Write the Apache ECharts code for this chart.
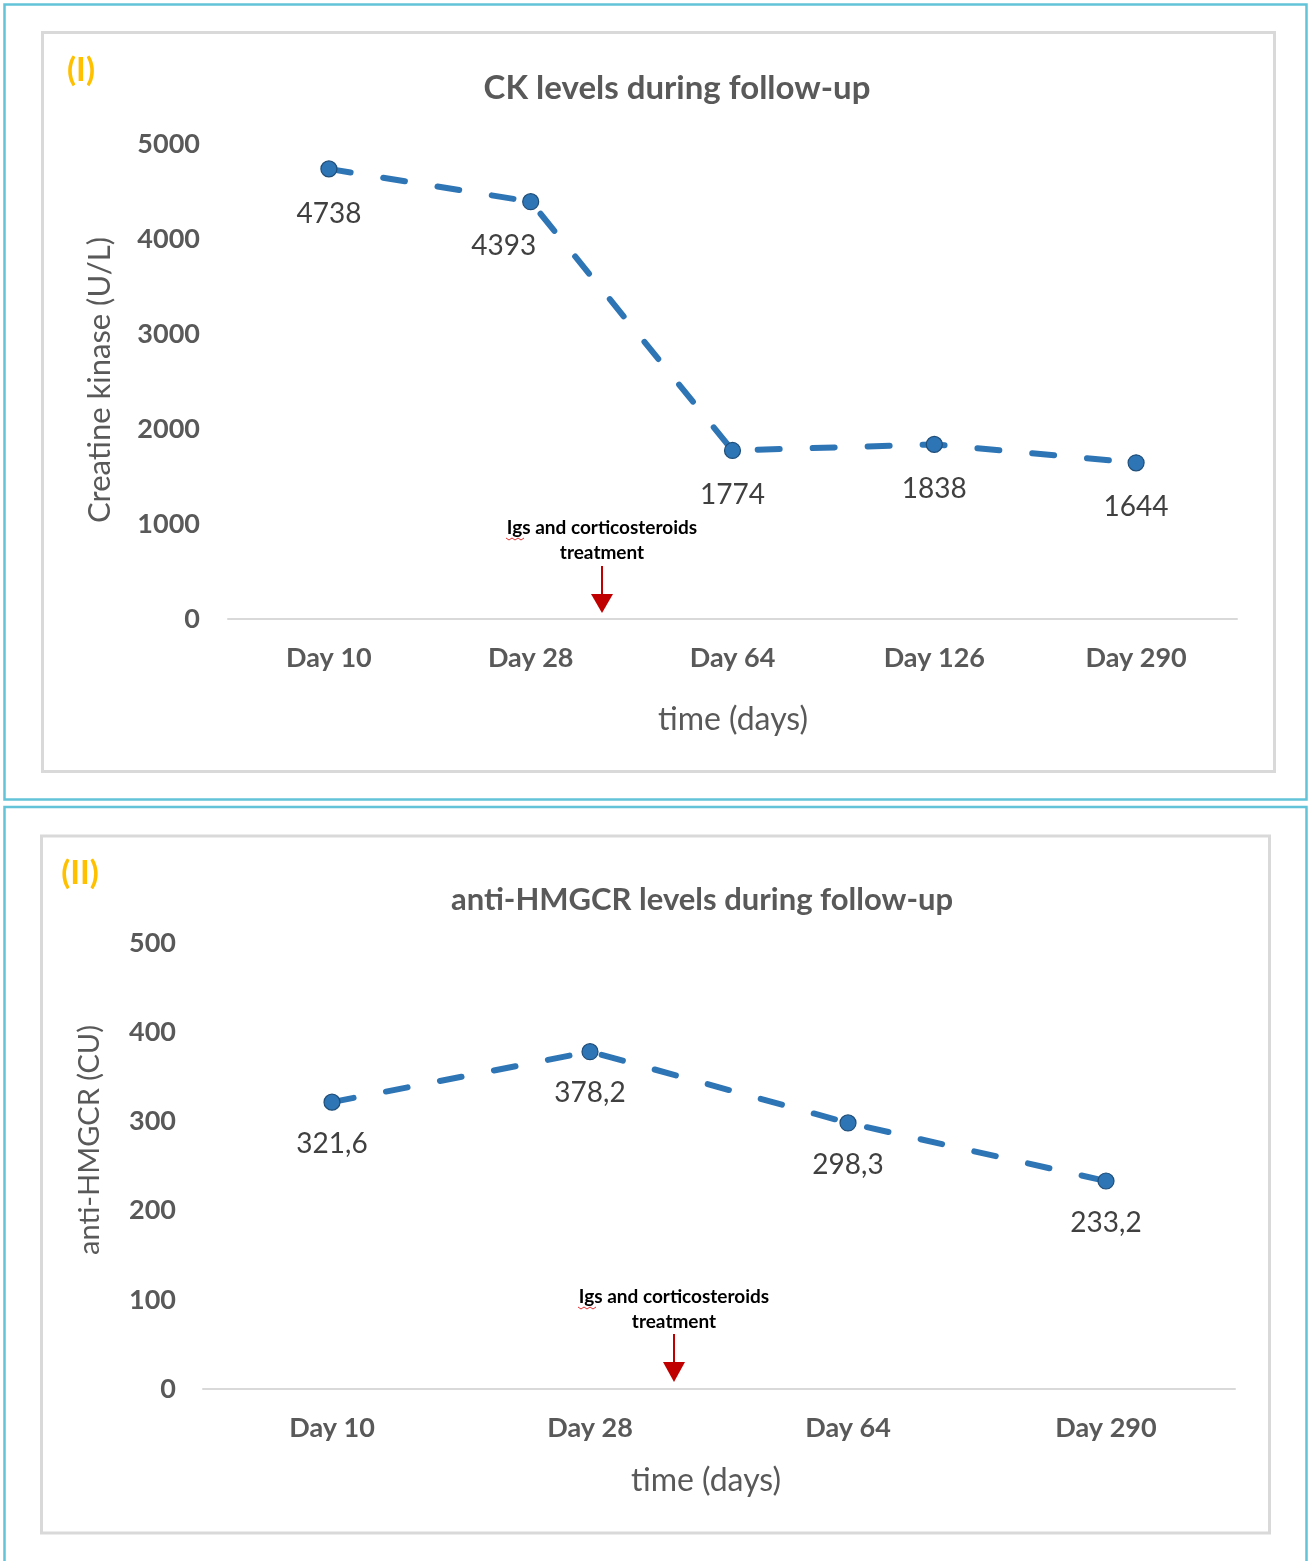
<!DOCTYPE html>
<html>
<head>
<meta charset="utf-8">
<script src="https://cdn.jsdelivr.net/npm/echarts@6/dist/echarts.min.js"></script>
<style>
  html, body { margin: 0; padding: 0; background: #fff; }
  #chart { width: 1312px; height: 1561px; }
</style>
</head>
<body>
<div id="chart"></div>
<script>
// data
const ckDays = ['Day 10', 'Day 28', 'Day 64', 'Day 126', 'Day 290'];
const ckValues = [4738, 4393, 1774, 1838, 1644];
const ckAxis = { min: 0, max: 5000, interval: 1000 };

const hmgDays = ['Day 10', 'Day 28', 'Day 64', 'Day 290'];
const hmgValues = [321.6, 378.2, 298.3, 233.2];
const hmgAxis = { min: 0, max: 500, interval: 100 };

const FONT = 'Lato';
const GREY = '#595959';
const BLUE = '#2e75b6';
const RED = '#c00000';

let myChart = echarts.init(document.getElementById('chart'));

function xAxisOf(idx, cats) {
  return {
    gridIndex: idx,
    type: 'category',
    data: cats,
    boundaryGap: true,
    axisLine: { lineStyle: { color: '#d9d9d9', width: 2 } },
    axisTick: { show: false },
    axisLabel: { color: GREY, fontFamily: FONT, fontWeight: 'bold', fontSize: 27, margin: 26 }
  };
}
function yAxisOf(idx, ax, margin) {
  return {
    gridIndex: idx,
    type: 'value',
    min: ax.min, max: ax.max, interval: ax.interval,
    axisLine: { show: false },
    axisTick: { show: false },
    splitLine: { show: false },
    axisLabel: {
      color: GREY, fontFamily: FONT, fontWeight: 'bold', fontSize: 27, margin: margin,
      formatter: function (v) { return String(v); }
    }
  };
}
function lineOf(idx, values, distance, shiftIdx) {
  return {
    type: 'line',
    xAxisIndex: idx, yAxisIndex: idx,
    data: values.map(function (v, i) {
      // 4393 label sits a bit left of its point in the original
      if (i === shiftIdx) return { value: v, label: { offset: [-27, 0] } };
      return v;
    }),
    symbol: 'circle',
    symbolSize: 16,
    itemStyle: { color: BLUE, borderColor: '#1f4e79', borderWidth: 1.2 },
    lineStyle: { color: BLUE, width: 6, type: [22, 33], cap: 'round' },
    label: {
      show: true, position: 'bottom', distance: distance,
      color: '#404040', fontFamily: FONT, fontSize: 28,
      formatter: function (p) { return String(p.value).replace('.', ','); }
    },
    animation: false
  };
}

// annotation: text + red arrow
function note(cx, y1, y2, lineTop, headTop, headBottom) {
  return [
    { type: 'text', x: cx, y: y1, style: { text: 'Igs and corticosteroids', fill: '#000', font: 'bold 19px ' + FONT, textAlign: 'center', textVerticalAlign: 'middle' } },
    { type: 'text', x: cx, y: y2, style: { text: 'treatment', fill: '#000', font: 'bold 19px ' + FONT, textAlign: 'center', textVerticalAlign: 'middle' } },
    { type: 'polyline', shape: { points: [[cx - 96, y1 + 10], [cx - 93, y1 + 12], [cx - 90, y1 + 10], [cx - 87, y1 + 12], [cx - 84, y1 + 10], [cx - 81, y1 + 12], [cx - 78, y1 + 10]] }, style: { stroke: '#e03030', lineWidth: 1, fill: null } },
    { type: 'line', shape: { x1: cx, y1: lineTop, x2: cx, y2: headTop + 2 }, style: { stroke: RED, lineWidth: 2 } },
    { type: 'polygon', shape: { points: [[cx - 11, headTop], [cx + 11, headTop], [cx, headBottom]] }, style: { fill: RED } }
  ];
}

let graphics = [
  // outer blue frames
  { type: 'rect', shape: { x: 4.5, y: 4.5, width: 1302, height: 795 }, style: { fill: null, stroke: '#62c3d9', lineWidth: 2.5 } },
  { type: 'rect', shape: { x: 4.5, y: 807, width: 1302, height: 760 }, style: { fill: null, stroke: '#62c3d9', lineWidth: 2.5 } },
  // inner grey chart areas
  { type: 'rect', shape: { x: 42.5, y: 32.5, width: 1232, height: 739 }, style: { fill: null, stroke: '#d9d9d9', lineWidth: 3 } },
  { type: 'rect', shape: { x: 41.5, y: 836, width: 1228, height: 697 }, style: { fill: null, stroke: '#d9d9d9', lineWidth: 3 } },
  // panel letters
  { type: 'text', x: 81, y: 70, style: { text: '(I)', fill: '#ffc000', font: 'bold 33px ' + FONT, textAlign: 'center', textVerticalAlign: 'middle' } },
  { type: 'text', x: 80, y: 873, style: { text: '(II)', fill: '#ffc000', font: 'bold 33px ' + FONT, textAlign: 'center', textVerticalAlign: 'middle' } },
  // titles
  { type: 'text', x: 677, y: 88, style: { text: 'CK levels during follow-up', fill: GREY, font: 'bold 33px ' + FONT, textAlign: 'center', textVerticalAlign: 'middle' } },
  { type: 'text', x: 702, y: 900, style: { text: 'anti-HMGCR levels during follow-up', fill: GREY, font: 'bold 31px ' + FONT, textAlign: 'center', textVerticalAlign: 'middle' } },
  // axis names
  { type: 'text', x: 733, y: 720, style: { text: 'time (days)', fill: GREY, font: '32px ' + FONT, textAlign: 'center', textVerticalAlign: 'middle' } },
  { type: 'text', x: 706, y: 1481, style: { text: 'time (days)', fill: GREY, font: '32px ' + FONT, textAlign: 'center', textVerticalAlign: 'middle' } },
  { type: 'text', x: 100, y: 380, rotation: Math.PI / 2, style: { text: 'Creatine kinase (U/L)', fill: GREY, font: '31px ' + FONT, textAlign: 'center', textVerticalAlign: 'middle' } },
  { type: 'text', x: 90, y: 1140, rotation: Math.PI / 2, style: { text: 'anti-HMGCR (CU)', fill: GREY, font: '29px ' + FONT, textAlign: 'center', textVerticalAlign: 'middle' } }
];
graphics = graphics.concat(note(602, 528, 553, 566, 594, 613));
graphics = graphics.concat(note(674, 1297, 1322, 1334, 1362, 1382));

let option = {
  animation: false,
  grid: [
    { left: 228, right: 75, top: 144, height: 475 },
    { left: 203, right: 77, top: 943, height: 446 }
  ],
  xAxis: [xAxisOf(0, ckDays), xAxisOf(1, hmgDays)],
  yAxis: [yAxisOf(0, ckAxis, 28), yAxisOf(1, hmgAxis, 27)],
  series: [lineOf(0, ckValues, 22, 1), lineOf(1, hmgValues, 19, -1)],
  graphic: graphics
};

myChart.setOption(option);
</script>
</body>
</html>
